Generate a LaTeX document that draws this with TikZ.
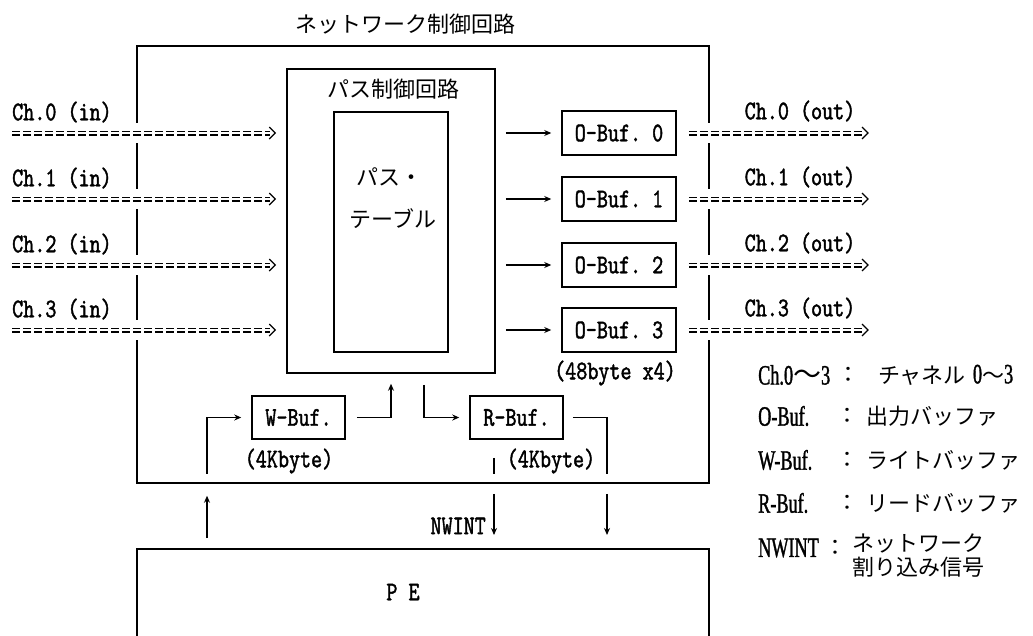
\documentclass[tikz,border=0pt]{standalone}
\usepackage{fontspec}
\usetikzlibrary{arrows.meta,calc}
\newfontfamily\jp{Noto Sans CJK JP}
\newfontfamily\lat{lmmono10-regular.otf}[FakeStretch=0.78, FakeBold=1.5]
\newfontfamily\leg{Liberation Serif}[FakeStretch=0.65, FakeBold=1.2]
\begin{document}
\begin{tikzpicture}[x=1pt,y=-1pt,
  box/.style={draw, line width=1.5pt, inner sep=0pt},
  lab/.style={font=\lat\fontsize{27}{27}\selectfont, inner sep=0pt},
  llab/.style={font=\leg\fontsize{28}{28}\selectfont, inner sep=0pt, anchor=west},
  jlab/.style={font=\jp\fontsize{22}{22}\selectfont, inner sep=0pt},
  arr/.style={line width=1.3pt, -{Stealth[length=7pt,width=6pt]}},
  ln/.style={line width=1.3pt},
  dbl/.style={double, double distance=2.2pt, line width=1.4pt, dash pattern=on 8pt off 3pt},
  chev/.style={line width=1.3pt},
  gapw/.style={draw=white, line width=20pt}]
\useasboundingbox (0,0) rectangle (1033,635);
\clip (0,0) rectangle (1033,635);

% outer box and title
\node[box, minimum width=572pt, minimum height=437pt] (ncc) at (423,264.5) {};
\node[jlab] (ttl) at (405,24) {ネットワーク制御回路};

% path control box
\node[box, minimum width=208pt, minimum height=304pt] (pbox) at (391,221) {};
\node[jlab] (pttl) at (393,89) {パス制御回路};
\node[box, minimum width=114pt, minimum height=240pt] (tbl) at (391,232) {};
\node[jlab] (tbla) at (389,177) {パス・};
\node[jlab] (tblb) at (393,219) {テーブル};

% output buffers
\foreach \i/\y in {0/133,1/199,2/265,3/330}{
  \node[box, lab, minimum width=114pt, minimum height=44pt] (obuf\i) at (619,\y) {O-Buf.\ \i};
}
\node[lab] (osz) at (615,373) {(48byte x4)};

% gaps in the outer box where channels cross
\foreach \i in {0,1,2,3}{
  \draw[gapw] ($(ncc.west|-obuf\i)+(-3,0)$) -- ($(ncc.west|-obuf\i)+(3,0)$);
  \draw[gapw] ($(ncc.east|-obuf\i)+(-3,0)$) -- ($(ncc.east|-obuf\i)+(3,0)$);
}

% channels
\foreach \i/\y in {0/133,1/199,2/265,3/330}{
  \coordinate (is\i) at (12,\y);
  \coordinate (ie\i) at ($(pbox.west|-obuf\i)+(-11,0)$);
  \node[lab, anchor=west] (inl\i) at (12,\y-21) {Ch.\i{} (in)};
  \draw[dbl] (is\i) -- ($(ie\i)+(-5,0)$);
  \draw[chev] ($(ie\i)+(-6,-6)$) -- (ie\i) -- ($(ie\i)+(-6,6)$);
  \draw[arr, shorten <=10pt, shorten >=10pt] (pbox.east|-obuf\i) -- (obuf\i.west);
  \coordinate (os\i) at ($(obuf\i.east)+(12,0)$);
  \coordinate (oe\i) at (868,\y);
  \node[lab] (outl\i) at (800,\y-22) {Ch.\i{} (out)};
  \draw[dbl] (os\i) -- ($(oe\i)+(-5,0)$);
  \draw[chev] ($(oe\i)+(-6,-6)$) -- (oe\i) -- ($(oe\i)+(-6,6)$);
}

% W-Buf and R-Buf
\node[box, lab, minimum width=93pt, minimum height=43pt] (wbuf) at (298.5,417.5) {W-Buf.};
\node[box, lab, minimum width=93pt, minimum height=43pt] (rbuf) at (516.5,417.5) {R-Buf.};
\node[lab] (wsz) at (289,461) {(4Kbyte)};
\node[lab] (rsz) at (551,461) {(4Kbyte)};

% PE
\node[box, minimum width=572pt, minimum height=110pt, anchor=north] (pe) at (423,548) {};
\node[lab] (pet) at (403,592) {P E};

\coordinate (wx) at (207,0);
\coordinate (px) at (424,0);
\coordinate (rx) at (607,0);
\coordinate (nx) at (494,0);

\draw[arr, shorten <=10pt, shorten >=12pt] (pe.north-|wx) -- (ncc.south-|wx);
\draw[arr, shorten <=10pt, shorten >=10pt] (ncc.south-|wx) |- (wbuf.west);
\draw[arr, shorten <=11pt, shorten >=10pt] (wbuf.east) -| (pbox.south);
\draw[arr, shorten <=11pt, shorten >=10pt] (pbox.south-|px) |- (rbuf.west);
\draw[ln, shorten <=9pt, shorten >=10pt] (rbuf.east) -| (ncc.south-|rx);
\draw[arr, shorten <=10pt, shorten >=13pt] (ncc.south-|rx) -- (pe.north-|rx);
\draw[ln, shorten <=18pt, shorten >=10pt] (rbuf.south-|nx) -- (ncc.south-|nx);
\draw[arr, shorten <=10pt, shorten >=13pt] (ncc.south-|nx) -- (pe.north-|nx);
\node[lab, anchor=east] (nw) at (486,526) {NWINT};

% legend
\node[llab] (k1) at (758,375) {Ch.0{\jp ～}3};
\node[jlab] (c1) at (848,375) {：};
\node[jlab, anchor=west] (d1) at (878,375) {チャネル\hspace{7pt}{\leg\fontsize{28}{28}\selectfont 0}～{\leg\fontsize{28}{28}\selectfont 3}};
\node[llab] (k2) at (758,416) {O-Buf.};
\node[jlab] (c2) at (847,416) {：};
\node[jlab, anchor=west] (d2) at (866,416) {出力バッファ};
\node[llab] (k3) at (758,460) {W-Buf.};
\node[jlab] (c3) at (847,460) {：};
\node[jlab, anchor=west] (d3) at (866,460) {ライトバッファ};
\node[llab] (k4) at (758,503) {R-Buf.};
\node[jlab] (c4) at (847,503) {：};
\node[jlab, anchor=west] (d4) at (866,503) {リードバッファ};
\node[llab] (k5) at (758,548) {NWINT};
\node[jlab] (c5) at (835,548) {：};
\node[jlab, anchor=west] (d5a) at (852,543) {ネットワーク};
\node[jlab, anchor=west] (d5b) at (852,567) {割り込み信号};
\end{tikzpicture}
\end{document}
